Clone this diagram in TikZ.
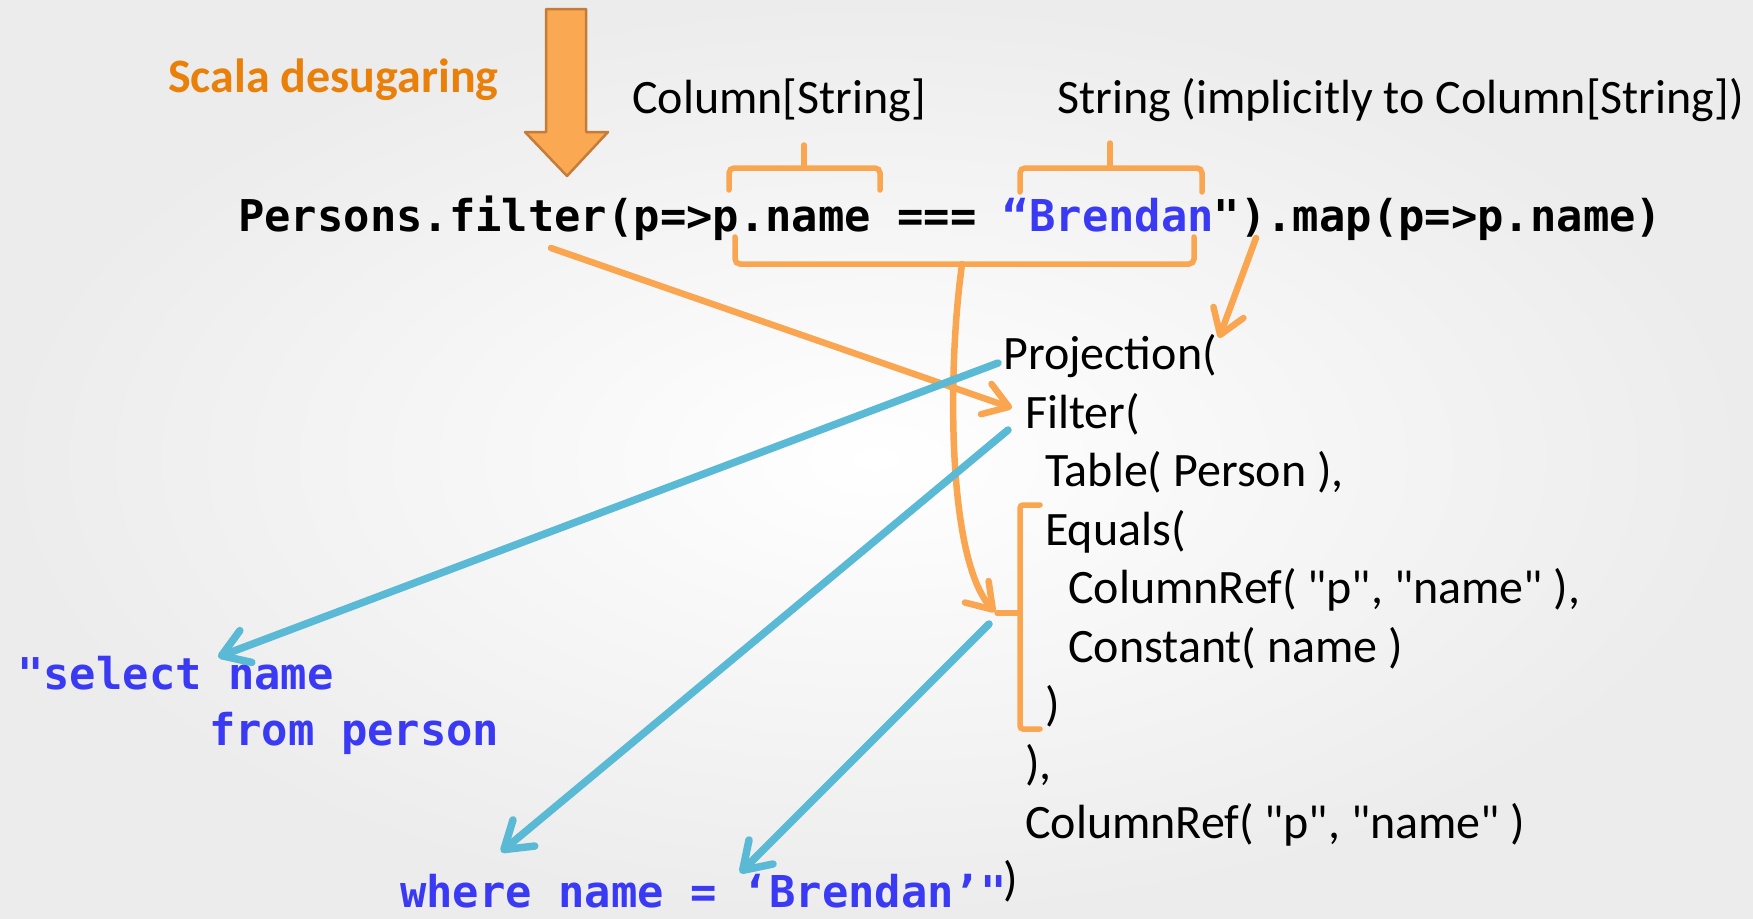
\documentclass[tikz,border=0pt]{standalone}
\usepackage{fontspec}
\setmainfont{Carlito}[Ligatures=TeXOff]
\newfontfamily\codefont{DejaVu Sans Mono}[Ligatures=TeXOff]
\usetikzlibrary{arrows.meta}
\definecolor{bgout}{RGB}{236,236,236}
\definecolor{orangefill}{RGB}{250,168,82}
\definecolor{orangeedge}{RGB}{196,124,58}
\definecolor{orangeline}{RGB}{250,166,80}
\definecolor{orangetext}{RGB}{233,128,10}
\definecolor{sqlblue}{RGB}{58,58,245}
\definecolor{cyanline}{RGB}{90,185,212}
\begin{document}
\begin{tikzpicture}[x=1pt,y=-1pt,
  lbl/.style={anchor=base west, inner sep=0pt, font=\fontsize{48}{58}\selectfont},
  code/.style={anchor=base west, inner sep=0pt, font=\codefont\bfseries\fontsize{43.8}{52}\selectfont},
  sql/.style={code, text=sqlblue},
  obrace/.style={draw=orangeline, line width=5.5pt, rounded corners=5pt, line cap=round},
  oarrow/.style={draw=orangeline, line width=6.5pt, line cap=round, -{Straight Barb[length=24pt,width=32pt,round]}},
  carrow/.style={draw=cyanline, line width=7.5pt, line cap=round, -{Straight Barb[length=26pt,width=34pt,round]}},
]
\shade[inner color=white, outer color=bgout] (0,0) rectangle (1753,918);
\useasboundingbox (0,0) rectangle (1753,918);

% big desugaring arrow
\draw[fill=orangefill, draw=orangeedge, line width=2.5pt, line join=round]
  (546,9) -- (586,9) -- (586,132) -- (608,132) -- (567,176) -- (525,132) -- (546,132) -- cycle;

% labels
\node[lbl, font=\bfseries\fontsize{48}{58}\selectfont, text=orangetext] (scala) at (168,92) {Scala desugaring};
\node[lbl] (colstr) at (632,113) {Column[String]};
\node[lbl] (strimp) at (1057,113) {String (implicitly to Column[String])};

% code line
\node[code] (expr) at (238,231) {Persons.filter(p=>p.name === \textcolor{sqlblue}{“Brendan}").map(p=>p.name)};

% tree
\node[lbl] (proj) at (1003,369) {Projection(};
\node[lbl] (filt) at (1025,428) {Filter(};
\node[lbl] (tabl) at (1045,486) {Table( Person ),};
\node[lbl] (equa) at (1045,545) {Equals(};
\node[lbl] (cref1) at (1068,603) {ColumnRef( "p", "name" ),};
\node[lbl] (cons) at (1068,662) {Constant( name )};
\node[lbl] (cl1) at (1045,720) {)};
\node[lbl] (cl2) at (1025,779) {),};
\node[lbl] (cref2) at (1025,838) {ColumnRef( "p", "name" )};
\node[lbl] (cl3) at (1003,895) {)};

% sql
\node[sql] (sel) at (17,689) {"select name};
\node[sql] (from) at (209,745) {from person};
\node[sql] (where) at (400,907) {where name = ‘Brendan’"};

% coordinates
\coordinate (braceA) at (804,168);
\coordinate (braceAtop) at (804,145);
\coordinate (braceB) at (1110,168);
\coordinate (braceBtop) at (1110,143);
\coordinate (bot) at (962,264);
\coordinate (eqtick) at (995,612);
\coordinate (filterstart) at (551,248);
\coordinate (filtertip) at (1012,408);
\coordinate (mapstart) at (1256,238);
\coordinate (maptip) at (1219,338);
\coordinate (projstart) at (998,363);
\coordinate (seltip) at (218,657);
\coordinate (filtstart) at (1008,430);
\coordinate (wheretip) at (501,852);
\coordinate (eqstart) at (989,624);
\coordinate (brentip) at (740,873);

% braces
\draw[obrace] (729,190) -- (729,168) -- (880,168) -- (880,190);
\draw[obrace] (braceA) -- (braceAtop);
\draw[obrace] (1020,192) -- (1020,168) -- (1202,168) -- (1202,192);
\draw[obrace] (braceB) -- (braceBtop);
\draw[obrace] (735,237) -- (735,264) -- (1194,264) -- (1194,237);
\draw[obrace, rounded corners=3pt] (1040,505) -- (1020,505) -- (1020,729) -- (1040,729);
\draw[obrace] (1020,613) -- (997,613);

% orange arrows
\draw[oarrow] (bot) -- (960,280) .. controls (948,380) and (948,560) .. (eqtick);
\draw[oarrow] (filterstart) -- (filtertip);
\draw[oarrow] (mapstart) -- (maptip);

% cyan arrows
\draw[carrow] (projstart) -- (seltip);
\draw[carrow] (filtstart) -- (wheretip);
\draw[carrow] (eqstart) -- (brentip);
\end{tikzpicture}
\end{document}
